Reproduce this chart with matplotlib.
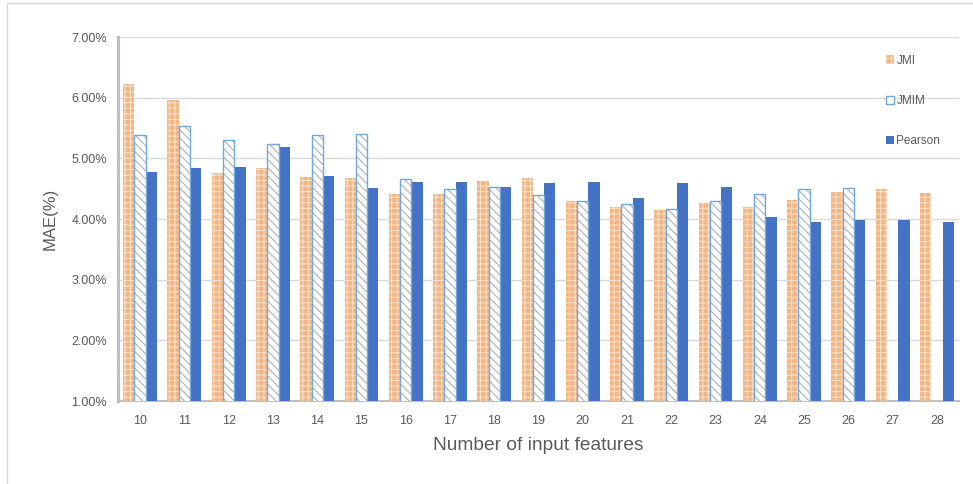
import numpy as np
import matplotlib
matplotlib.use('Agg')
import matplotlib.pyplot as plt
from matplotlib.patches import Rectangle, Patch
from matplotlib.ticker import FuncFormatter

plt.rcParams['font.family'] = ['Liberation Sans', 'DejaVu Sans']
plt.rcParams['hatch.linewidth'] = 0.7

# dados (MAE em %)
features = [10, 11, 12, 13, 14, 15, 16, 17, 18, 19, 20, 21, 22, 23, 24, 25, 26, 27, 28]
jmi = [6.23, 5.96, 4.75, 4.84, 4.69, 4.68, 4.42, 4.42, 4.63, 4.68, 4.29, 4.19, 4.15,
       4.27, 4.19, 4.32, 4.45, 4.49, 4.43]
jmim = [5.38, 5.53, 5.31, 5.24, 5.38, 5.40, 4.66, 4.50, 4.53, 4.40, 4.30, 4.24, 4.16,
        4.29, 4.42, 4.49, 4.51, np.nan, np.nan]
pearson = [4.78, 4.84, 4.86, 5.19, 4.71, 4.51, 4.61, 4.61, 4.52, 4.59, 4.61, 4.34, 4.59,
           4.53, 4.04, 3.95, 3.98, 3.99, 3.95]

cor_jmi = '#F2B584'
cor_jmim = '#6FA8DC'
cor_pearson = '#4472C4'
cinza_txt = '#595959'

fig = plt.figure(figsize=(9.73, 4.84), dpi=100)
ax = fig.add_axes([118 / 973, 1 - 401 / 484, 841 / 973, 364 / 484])

x = np.arange(len(features))
w = 0.255

# JMI: laranja com padrão branco
ax.bar(x - w, jmi, w, color=cor_jmi, edgecolor='#FBE3CF', hatch='+++',
       linewidth=0, zorder=3)
# JMIM: branco com hachura cinza e borda azul
ax.bar(x, jmim, w, color='white', edgecolor='#A8A8A8', hatch='\\\\\\\\',
       linewidth=0, zorder=3)
ax.bar(x, jmim, w, fill=False, edgecolor=cor_jmim, linewidth=1.0, zorder=4)
# Pearson
ax.bar(x + w, pearson, w, color=cor_pearson, linewidth=0, zorder=3)

ax.set_ylim(1, 7)
ax.set_xlim(-0.5, len(features) - 0.5)
ax.set_yticks([1, 2, 3, 4, 5, 6, 7])
ax.yaxis.set_major_formatter(FuncFormatter(lambda v, p: f'{v:.2f}%'))
ax.set_xticks(x)
ax.set_xticklabels([str(f) for f in features])
ax.tick_params(axis='both', length=0, labelsize=9, colors=cinza_txt)
ax.tick_params(axis='x', pad=10)
ax.tick_params(axis='y', pad=8)
ax.grid(axis='y', color='#D9D9D9', linewidth=1, zorder=0)
ax.set_axisbelow(True)

for s in ['top', 'right']:
    ax.spines[s].set_visible(False)
ax.spines['left'].set_color('#BFBFBF')
ax.spines['left'].set_linewidth(2.2)
ax.spines['bottom'].set_color('#BFBFBF')
ax.spines['bottom'].set_linewidth(1.5)

ax.set_xlabel('Number of input features', fontsize=13.8, color=cinza_txt, labelpad=7)
ax.set_ylabel('MAE(%)', fontsize=12, color=cinza_txt, labelpad=10)

handles = [
    Patch(facecolor=cor_jmi, edgecolor='#FBE3CF', hatch='+++', linewidth=0),
    Patch(facecolor='white', edgecolor=cor_jmim, linewidth=1.0),
    Patch(facecolor=cor_pearson, linewidth=0),
]
leg = ax.legend(handles, ['JMI', 'JMIM', 'Pearson'], loc='upper left',
                bbox_to_anchor=(0.906, 0.968), frameon=False, fontsize=8.5,
                handlelength=0.7, handleheight=0.7, handletextpad=0.2,
                labelspacing=2.4, borderpad=0)
for t in leg.get_texts():
    t.set_color(cinza_txt)

# moldura clara da figura
fig.add_artist(Rectangle((7 / 973, -0.05), 1.1, 1 - 2.5 / 484 + 0.05,
                         transform=fig.transFigure, fill=False,
                         edgecolor='#D9D9D9', linewidth=1))

fig.savefig('out.png', dpi=100)
